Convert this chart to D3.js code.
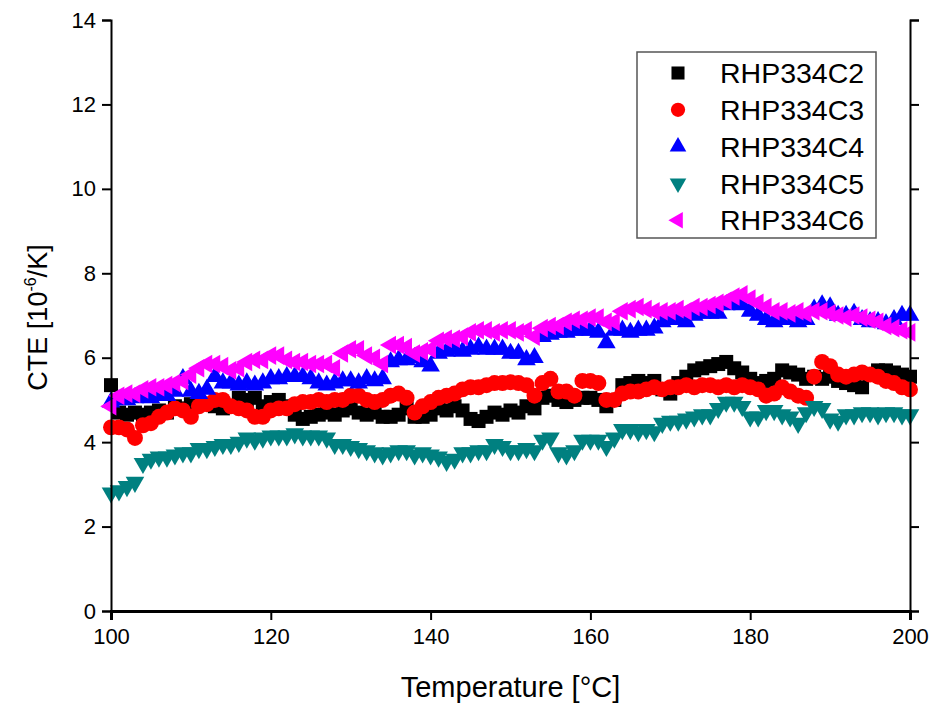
<!DOCTYPE html>
<html>
<head>
<meta charset="utf-8">
<style>
body { margin: 0; background: #fff; font-family: "Liberation Sans", Arial, sans-serif; }
.axis text { font-family: "Liberation Sans", Arial, sans-serif; }
</style>
</head>
<body>
<svg width="938" height="704"></svg>
<script src="https://cdn.jsdelivr.net/npm/d3@7"></script>
<script>
// temperatures 100..200 °C, one reading per degree
var temps = d3.range(100, 201);

var c2 = [5.35,4.7,4.65,4.7,4.65,4.7,4.75,4.7,4.85,4.8,
  4.9,4.95,4.9,4.85,4.8,4.85,5.05,5.0,5.05,4.85,
  4.95,5.0,4.85,4.65,4.55,4.6,4.65,4.7,4.65,4.75,
  4.8,4.7,4.65,4.7,4.6,4.6,4.65,4.8,4.6,4.6,
  4.65,4.8,4.75,4.85,4.75,4.55,4.5,4.6,4.7,4.65,
  4.75,4.7,4.85,4.8,5.05,5.1,5.0,4.95,5.0,5.05,
  5.05,5.0,4.85,5.0,5.35,5.4,5.45,5.4,5.45,5.25,
  5.15,5.4,5.55,5.7,5.75,5.8,5.85,5.9,5.75,5.65,
  5.5,5.4,5.45,5.5,5.7,5.65,5.6,5.5,5.55,5.5,
  5.55,5.45,5.4,5.35,5.3,5.6,5.7,5.7,5.65,5.6,5.55];

var c3 = [4.35,4.35,4.3,4.1,4.4,4.45,4.6,4.7,4.8,4.75,
  4.6,4.85,4.9,5.0,5.0,4.85,4.8,4.75,4.6,4.6,
  4.75,4.8,4.8,4.9,4.95,4.95,5.0,4.95,5.0,5.0,
  5.1,5.1,5.0,4.95,5.0,5.1,5.15,5.05,4.7,4.85,
  4.95,5.05,5.1,5.15,5.25,5.3,5.3,5.35,5.4,5.4,
  5.42,5.4,5.35,5.1,5.4,5.5,5.2,5.2,5.1,5.45,
  5.45,5.4,5.0,5.0,5.15,5.2,5.2,5.25,5.3,5.25,
  5.3,5.3,5.35,5.3,5.35,5.35,5.3,5.35,5.3,5.35,
  5.3,5.25,5.1,5.15,5.3,5.2,5.1,5.05,5.55,5.9,
  5.8,5.6,5.55,5.6,5.65,5.6,5.55,5.45,5.4,5.3,5.25];

var c4 = [4.95,5.0,5.0,5.05,5.1,5.05,5.1,5.1,5.2,5.5,
  5.2,5.15,5.25,5.55,5.4,5.4,5.35,5.4,5.35,5.4,
  5.5,5.5,5.55,5.55,5.55,5.5,5.4,5.35,5.4,5.45,
  5.45,5.4,5.5,5.45,5.5,5.9,5.95,5.95,6.0,5.9,
  5.8,6.1,6.15,6.2,6.15,6.2,6.25,6.2,6.2,6.2,
  6.1,6.1,5.95,6.0,6.5,6.55,6.6,6.6,6.65,6.65,
  6.65,6.6,6.35,6.65,6.65,6.6,6.65,6.65,6.7,6.85,
  6.9,6.9,6.85,7.0,7.05,7.05,7.05,7.25,7.3,7.25,
  7.1,7.0,6.9,6.85,6.9,6.9,6.85,6.9,7.15,7.25,
  7.2,7.0,7.0,7.05,6.9,6.85,6.85,6.8,6.9,7.0,7.0];

var c5 = [2.8,2.85,2.95,3.05,3.5,3.6,3.65,3.65,3.7,3.75,
  3.75,3.85,3.85,3.9,3.95,3.95,4.0,4.1,4.05,4.1,
  4.15,4.15,4.15,4.2,4.15,4.15,4.15,4.1,3.95,3.95,
  3.9,3.85,3.8,3.75,3.7,3.75,3.8,3.8,3.7,3.75,
  3.7,3.65,3.55,3.6,3.75,3.75,3.8,3.8,3.95,3.9,
  3.8,3.8,3.85,3.8,4.05,4.1,3.75,3.7,3.8,4.05,
  4.05,4.05,3.9,4.1,4.3,4.3,4.25,4.3,4.25,4.45,
  4.5,4.5,4.55,4.6,4.65,4.65,4.8,4.95,4.95,4.85,
  4.6,4.6,4.75,4.75,4.65,4.6,4.45,4.7,4.85,4.8,
  4.55,4.5,4.65,4.65,4.7,4.7,4.65,4.7,4.7,4.65,4.65];

var c6 = [4.85,5.1,5.15,5.15,5.25,5.3,5.3,5.35,5.4,5.45,
  5.6,5.75,5.85,5.85,5.8,5.7,5.75,5.9,5.95,5.95,
  6.05,6.05,5.95,5.9,5.9,5.85,5.85,5.85,5.75,6.1,
  6.2,6.2,6.05,6.0,5.85,6.3,6.3,6.25,6.1,6.15,
  6.2,6.4,6.45,6.45,6.5,6.6,6.65,6.65,6.6,6.65,
  6.65,6.6,6.65,6.5,6.7,6.75,6.75,6.85,6.9,6.9,
  6.95,6.95,6.85,6.85,7.1,7.15,7.2,7.15,7.1,7.1,
  7.1,7.15,7.1,7.2,7.2,7.25,7.3,7.35,7.45,7.5,
  7.4,7.3,7.2,7.1,7.1,7.05,7.1,7.05,7.1,7.1,
  7.05,7.0,6.95,7.0,6.95,6.9,6.85,6.75,6.7,6.65,6.6];

var names = ["RHP334C2", "RHP334C3", "RHP334C4", "RHP334C5", "RHP334C6"];
var values = [c2, c3, c4, c5, c6];
var colors = ["#000000", "#ff0000", "#0000ff", "#008080", "#ff00ff"];

var xTicks = [100, 120, 140, 160, 180, 200];
var yTicks = [0, 2, 4, 6, 8, 10, 12, 14];

var svg = d3.select("svg"),
    margin = {top: 20, right: 28, bottom: 93, left: 111},
    width = +svg.attr("width") - margin.left - margin.right,
    height = +svg.attr("height") - margin.top - margin.bottom;

var g = svg.append("g").attr("transform", "translate(" + margin.left + "," + margin.top + ")");

var x = d3.scaleLinear().domain([100, 200]).range([0, width]);
var y = d3.scaleLinear().domain([0, 14]).range([height, 0]);

// marker shapes: square, circle, up, down, left triangles
var shapes = [
  {type: d3.symbolSquare, size: 196, rot: 0},
  {type: d3.symbolCircle, size: 200, rot: 0},
  {type: d3.symbolTriangle, size: 150, rot: 0},
  {type: d3.symbolTriangle, size: 150, rot: 180},
  {type: d3.symbolTriangle, size: 150, rot: -90}
];
var legendSize = [170, 160, 120, 120, 120];

function markerPath(i, s) {
  return d3.symbol().type(shapes[i].type).size(s)();
}

values.forEach(function(series, i) {
  g.append("g")
      .attr("fill", colors[i])
    .selectAll("path")
    .data(series)
    .enter().append("path")
      .attr("d", markerPath(i, shapes[i].size))
      .attr("transform", function(d, j) {
        return "translate(" + x(temps[j]) + "," + y(d) + ") rotate(" + shapes[i].rot + ")";
      });
});

// axes
var bottom = g.append("g")
    .attr("class", "axis")
    .attr("transform", "translate(0," + height + ")");
bottom.call(d3.axisBottom(x).tickValues(d3.range(110, 200, 20)).tickSize(5).tickFormat(""));
bottom.call(d3.axisBottom(x).tickValues(xTicks).tickSize(9).tickPadding(8).tickFormat(d3.format("d")));

var left = g.append("g").attr("class", "axis");
left.call(d3.axisLeft(y).tickValues(d3.range(1, 14, 2)).tickSize(5).tickFormat(""));
left.call(d3.axisLeft(y).tickValues(yTicks).tickSize(9).tickPadding(6).tickFormat(d3.format("d")));

var right = g.append("g").attr("class", "axis").attr("transform", "translate(" + width + ",0)");
right.call(d3.axisLeft(y).tickValues(d3.range(1, 14, 2)).tickSize(-5).tickFormat(""));
right.call(d3.axisLeft(y).tickValues(yTicks).tickSize(-9).tickFormat(""));

g.selectAll(".axis path.domain").attr("stroke", "#000").attr("stroke-width", 2);
g.selectAll(".axis line").attr("stroke", "#000").attr("stroke-width", 2);
bottom.selectAll("path.domain").attr("stroke-width", 3);
g.selectAll(".axis text").attr("font-size", 22).attr("fill", "#000");

// axis titles
svg.append("text")
    .attr("x", margin.left + width / 2)
    .attr("y", 697)
    .attr("text-anchor", "middle")
    .attr("font-size", 29)
    .text("Temperature [°C]");

var yt = svg.append("text")
    .attr("transform", "translate(47," + (margin.top + height / 2 + 2) + ") rotate(-90)")
    .attr("text-anchor", "middle")
    .attr("font-size", 27);
yt.append("tspan").text("CTE [10");
yt.append("tspan").attr("dy", -11).attr("font-size", 16).text("-6");
yt.append("tspan").attr("dy", 11).text("/K]");

// legend
var legend = svg.append("g").attr("transform", "translate(637,52)");
legend.append("rect")
    .attr("width", 239)
    .attr("height", 186)
    .attr("fill", "#fff")
    .attr("stroke", "#555")
    .attr("stroke-width", 1.5);

var item = legend.selectAll("g.item")
    .data(names)
    .enter().append("g")
      .attr("class", "item")
      .attr("transform", function(d, i) { return "translate(0," + (21 + i * 36.8) + ")"; });

item.append("path")
    .attr("d", function(d, i) { return markerPath(i, legendSize[i]); })
    .attr("transform", function(d, i) { return "translate(41,0) rotate(" + shapes[i].rot + ")"; })
    .attr("fill", function(d, i) { return colors[i]; });

item.append("text")
    .attr("x", 83)
    .attr("dy", "0.36em")
    .attr("font-size", 28.5)
    .text(function(d) { return d; });
</script>
</body>
</html>
